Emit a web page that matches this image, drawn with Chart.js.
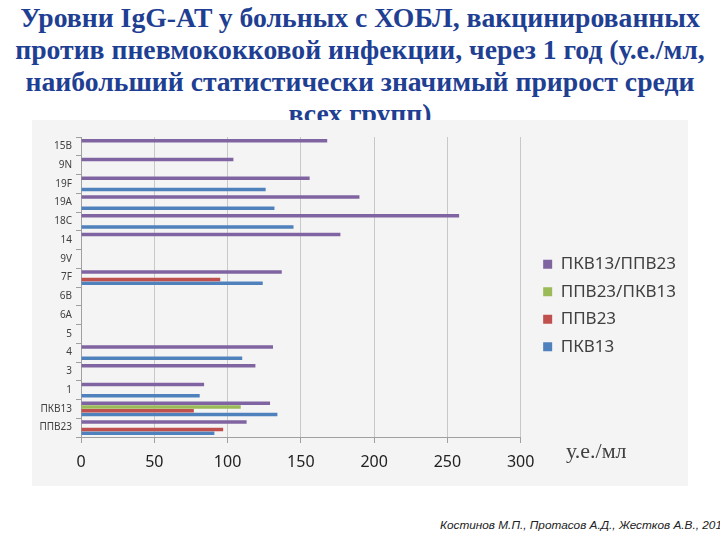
<!DOCTYPE html>
<html>
<head>
<meta charset="utf-8">
<script src="https://cdn.jsdelivr.net/npm/chart.js@4"></script>
<style>
  html, body { margin: 0; padding: 0; background: #fff; }
  body { width: 720px; height: 540px; position: relative; overflow: hidden; }
  #title {
    position: absolute; left: 0; top: 2px; width: 720px; white-space: nowrap;
    text-align: center; font-family: "Liberation Serif", serif; font-weight: bold;
    font-size: 27.7px; line-height: 32px; color: #1f3f93;
  }
  #box {
    position: absolute; left: 32px; top: 120px; width: 656px; height: 366px;
    background: #f4f4f4;
  }
  #unit {
    position: absolute; left: 566px; top: 438px;
    font-family: "Liberation Serif", serif; font-size: 22px; color: #404040;
  }
  #cite {
    position: absolute; left: 440px; top: 518px; white-space: nowrap;
    font-family: "Liberation Sans", sans-serif; font-style: italic; font-size: 11.8px; color: #222;
  }
</style>
</head>
<body>
<div id="title">Уровни IgG-AT у больных с ХОБЛ, вакцинированных<br>против пневмококковой инфекции, через 1 год (у.е./мл,<br>наибольший статистически значимый прирост среди<br>всех групп)</div>
<div id="box"><canvas id="barGraph"></canvas></div>
<div id="unit">у.е./мл</div>
<div id="cite">Костинов М.П., Протасов А.Д., Жестков А.В., 2017</div>
<script>
const categories = ["15B", "9N", "19F", "19A", "18C", "14", "9V", "7F", "6B", "6A", "5", "4", "3", "1", "ПКВ13", "ППВ23"];

// values, in у.е./мл
const pkv13ppv23 = [168, 104, 156, 190, 258, 177, null, 137, null, null, null, 131, 119, 84, 129, 113];
const ppv23pkv13 = [null, null, null, null, null, null, null, null, null, null, null, null, null, null, 109, null];
const ppv23 = [null, null, null, null, null, null, null, 95, null, null, null, null, null, null, 77, 97];
const pkv13 = [null, null, 126, 132, 145, null, null, 124, null, null, null, 110, null, 81, 134, 91];

const xTicks = [0, 50, 100, 150, 200, 250, 300];

// nudge the legend a bit right and up, like in the slide
const legendNudge = {
  id: "legendNudge",
  afterLayout: (chart) => {
    const lg = chart.legend;
    lg.left += 12;
    lg.right += 12;
    lg.top -= 6;
    lg.bottom -= 6;
  },
};

const ctx = document.getElementById("barGraph").getContext("2d");

new Chart(ctx, {
  type: "bar",
  data: {
    labels: categories,
    datasets: [
      { label: "ПКВ13/ППВ23", data: pkv13ppv23, backgroundColor: "#8064a2" },
      { label: "ППВ23/ПКВ13", data: ppv23pkv13, backgroundColor: "#9bbb59" },
      { label: "ППВ23", data: ppv23, backgroundColor: "#c0504d" },
      { label: "ПКВ13", data: pkv13, backgroundColor: "#4f81bd" },
    ],
  },
  plugins: [legendNudge],
  options: {
    indexAxis: "y",
    responsive: true,
    maintainAspectRatio: false,
    animation: false,
    categoryPercentage: 0.8,
    barPercentage: 0.9,
    layout: { padding: { left: 5, top: 17, right: 14, bottom: 0 } },
    plugins: {
      tooltip: { enabled: false },
      legend: {
        position: "right",
        labels: {
          boxWidth: 9,
          boxHeight: 9,
          padding: 10.5,
          color: "#404040",
          font: { family: "Noto Sans", size: 17 },
        },
      },
    },
    scales: {
      x: {
        min: 0,
        max: 300,
        afterBuildTicks: (scale) => {
          scale.ticks = xTicks.map((v) => ({ value: v }));
        },
        afterFit: (scale) => { scale.height = 49; },
        grid: { color: "#c8c8c8", tickLength: 6, tickColor: "#a0a0a0" },
        border: { color: "#a0a0a0" },
        ticks: {
          padding: 10,
          color: "#222",
          font: { family: "Noto Sans", size: 16 },
        },
      },
      y: {
        afterFit: (scale) => { scale.width = 44; },
        grid: { drawOnChartArea: false, tickLength: 5, tickColor: "#a0a0a0" },
        border: { color: "#a0a0a0" },
        ticks: {
          padding: 4,
          color: "#404040",
          font: { family: "Noto Sans", size: 10 },
        },
      },
    },
  },
});
</script>
</body>
</html>
